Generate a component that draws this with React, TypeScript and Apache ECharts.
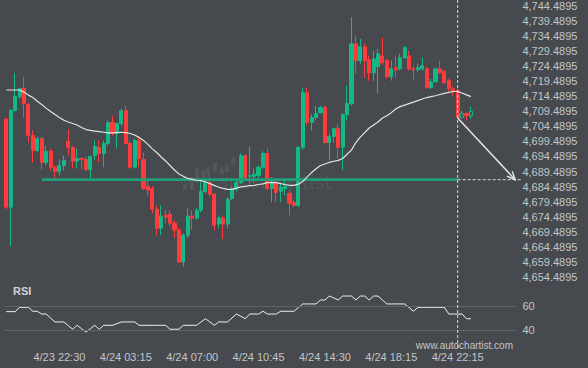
import React, { useEffect, useRef } from "react";
import * as echarts from "echarts";

// ---- data ----
const SLOTS = 116; // 15-minute slots shown on the x axis (incl. projection area)
const tickIndex = [12, 27, 42, 57, 72, 87, 102];
const tickLabels = ["4/23 22:30", "4/24 03:15", "4/24 07:00", "4/24 10:45", "4/24 14:30", "4/24 18:15", "4/24 22:15"];

// [open, close, low, high]
const candles: number[][] = [
  [4706.7, 4677.7, 4677.0, 4707.4], [4677.7, 4709.7, 4664.8, 4710.3], [4709.7, 4714.3, 4709.3, 4722.2], [4714.3, 4717.0, 4713.6, 4717.3],
  [4717.0, 4712.0, 4707.4, 4720.9], [4711.7, 4701.4, 4699.1, 4712.3], [4701.4, 4696.5, 4692.5, 4703.1], [4696.5, 4700.4, 4695.8, 4701.1],
  [4700.4, 4692.5, 4689.9, 4701.1], [4692.5, 4696.2, 4691.5, 4698.1], [4696.2, 4690.9, 4689.9, 4697.1], [4690.9, 4689.6, 4686.9, 4691.5],
  [4689.6, 4691.5, 4688.2, 4693.5], [4691.5, 4693.2, 4689.9, 4694.8], [4699.5, 4697.5, 4694.8, 4703.4], [4697.5, 4692.9, 4690.5, 4697.8],
  [4692.9, 4693.8, 4690.5, 4697.1], [4693.8, 4693.5, 4690.2, 4694.2], [4693.5, 4690.2, 4689.6, 4694.5], [4690.2, 4694.5, 4686.9, 4694.8],
  [4694.8, 4697.8, 4693.2, 4699.8], [4697.5, 4695.5, 4692.5, 4699.8], [4695.5, 4698.8, 4690.9, 4699.8], [4698.8, 4705.7, 4698.1, 4706.4],
  [4705.7, 4702.1, 4701.4, 4708.0], [4702.1, 4705.4, 4697.1, 4705.7], [4705.4, 4709.7, 4704.4, 4710.3], [4709.7, 4698.8, 4698.5, 4711.3],
  [4698.8, 4690.9, 4690.5, 4699.8], [4690.9, 4699.8, 4690.5, 4700.4], [4699.8, 4693.8, 4690.9, 4700.8], [4693.5, 4683.9, 4683.3, 4695.8],
  [4684.6, 4683.3, 4681.3, 4686.6], [4683.9, 4677.0, 4675.7, 4684.6], [4677.0, 4670.7, 4668.4, 4678.3], [4670.7, 4674.7, 4668.4, 4678.3],
  [4675.0, 4674.4, 4672.4, 4676.7], [4675.4, 4672.4, 4671.4, 4676.7], [4672.4, 4670.1, 4667.4, 4673.4], [4670.1, 4659.5, 4659.2, 4670.7],
  [4659.5, 4668.4, 4657.9, 4669.1], [4668.4, 4674.7, 4667.4, 4677.3], [4674.7, 4674.1, 4670.1, 4676.7], [4674.1, 4676.7, 4673.4, 4677.3],
  [4676.7, 4682.9, 4676.0, 4686.6], [4682.9, 4685.9, 4682.3, 4687.2], [4685.9, 4682.0, 4681.3, 4687.6], [4682.0, 4671.7, 4670.1, 4682.3],
  [4672.1, 4674.1, 4670.7, 4675.0], [4674.1, 4672.1, 4667.1, 4674.7], [4672.1, 4680.3, 4670.7, 4681.0], [4680.6, 4683.6, 4680.0, 4684.6],
  [4683.6, 4685.9, 4682.9, 4686.6], [4685.9, 4694.8, 4685.3, 4695.5], [4694.8, 4687.6, 4686.6, 4695.2], [4687.9, 4688.2, 4685.6, 4697.8],
  [4687.9, 4688.6, 4685.6, 4690.5], [4688.2, 4690.9, 4687.2, 4691.5], [4690.9, 4695.5, 4690.2, 4696.2], [4695.5, 4683.9, 4683.3, 4697.1],
  [4683.9, 4685.9, 4679.3, 4687.6], [4685.9, 4682.6, 4679.3, 4686.6], [4683.0, 4684.3, 4679.3, 4685.6], [4683.9, 4684.6, 4681.6, 4686.6],
  [4682.3, 4679.0, 4675.0, 4683.3], [4679.3, 4678.3, 4677.7, 4680.0], [4678.3, 4697.5, 4677.7, 4697.8], [4697.5, 4715.6, 4696.8, 4717.3],
  [4715.6, 4705.7, 4704.7, 4717.3], [4705.7, 4707.4, 4703.1, 4708.7], [4707.4, 4708.7, 4706.4, 4711.3], [4709.0, 4710.7, 4708.7, 4711.3],
  [4710.7, 4699.1, 4698.8, 4711.3], [4699.1, 4701.1, 4693.2, 4702.1], [4701.1, 4703.7, 4699.1, 4704.1], [4703.7, 4697.5, 4693.8, 4705.4],
  [4697.5, 4708.4, 4689.9, 4708.7], [4708.4, 4712.0, 4706.4, 4717.9], [4712.0, 4731.8, 4711.3, 4740.7], [4731.8, 4726.2, 4721.9, 4734.4],
  [4726.2, 4730.8, 4725.2, 4733.4], [4730.8, 4726.2, 4720.6, 4731.8], [4726.5, 4722.2, 4719.6, 4727.8], [4722.2, 4726.8, 4719.6, 4729.5],
  [4724.2, 4728.5, 4715.3, 4730.1], [4727.8, 4725.5, 4724.9, 4733.8], [4726.2, 4720.9, 4720.2, 4726.8], [4720.9, 4723.5, 4719.6, 4726.2],
  [4723.9, 4723.2, 4720.6, 4727.8], [4723.5, 4727.2, 4722.9, 4728.5], [4727.2, 4730.5, 4726.8, 4731.1], [4727.8, 4723.5, 4722.9, 4729.5],
  [4723.5, 4723.2, 4719.6, 4724.5], [4723.2, 4723.9, 4722.6, 4725.2], [4723.5, 4724.5, 4722.9, 4727.2], [4723.5, 4717.3, 4716.9, 4724.2],
  [4717.3, 4719.2, 4716.9, 4720.2], [4719.2, 4723.5, 4718.9, 4723.9], [4723.5, 4722.2, 4721.9, 4726.2], [4722.6, 4718.9, 4718.6, 4723.2],
  [4719.6, 4716.9, 4716.0, 4720.2], [4716.9, 4716.0, 4714.6, 4717.6], [4716.3, 4707.4, 4707.0, 4716.9], [4707.4, 4708.7, 4707.0, 4709.7],
  [4708.7, 4708.0, 4706.4, 4709.0], [4708.0, 4709.4, 4707.0, 4711.0],
];
const hollowIndex = [103, 105];

const movingAverage = [
  4716.5, 4716.5, 4716.5, 4716.5, 4715.8, 4714.8, 4714.0, 4712.8, 4711.7, 4710.5, 4709.4, 4708.4, 4707.4, 4706.5, 4705.9, 4705.4,
  4704.9, 4704.1, 4703.4, 4703.1, 4702.9, 4702.7, 4702.5, 4702.3, 4702.3, 4702.4, 4702.5, 4702.4, 4702.1, 4701.6, 4700.8, 4699.8,
  4698.5, 4697.0, 4695.8, 4694.3, 4693.0, 4691.5, 4690.0, 4688.7, 4687.9, 4687.2, 4686.9, 4686.6, 4686.5, 4686.1, 4685.5, 4684.9,
  4684.3, 4683.9, 4683.6, 4683.6, 4684.0, 4684.4, 4684.6, 4684.8, 4684.9, 4685.2, 4685.4, 4685.8, 4685.9, 4685.8, 4685.5, 4685.2,
  4684.9, 4684.9, 4685.3, 4686.2, 4687.7, 4689.2, 4690.4, 4691.5, 4692.0, 4692.5, 4692.9, 4693.2, 4693.8, 4695.2, 4696.6, 4699.1,
  4700.9, 4702.4, 4703.9, 4704.9, 4705.9, 4707.2, 4708.0, 4709.0, 4710.2, 4711.0, 4711.5, 4712.0, 4712.5, 4713.0, 4713.5, 4714.0,
  4714.3, 4714.6, 4715.0, 4715.4, 4715.7, 4716.0, 4716.0, 4715.5, 4714.9, 4714.3,
];

const rsi = [
  55.3, 55.3, 55.3, 58.9, 58.9, 58.9, 55.6, 55.6, 53.3, 53.3, 50.0, 46.7, 46.7, 46.7, 43.6, 40.6,
  43.9, 41.1, 38.3, 41.1, 43.9, 40.6, 43.9, 43.9, 43.9, 45.3, 46.7, 46.7, 46.7, 46.7, 43.9, 43.9,
  43.9, 43.9, 43.9, 43.9, 43.9, 40.6, 40.6, 40.6, 43.9, 43.9, 43.9, 43.9, 46.7, 49.4, 46.7, 43.9,
  46.7, 46.7, 46.7, 50.0, 53.3, 51.4, 49.4, 53.3, 53.3, 53.3, 55.6, 53.3, 53.3, 53.3, 55.6, 55.6,
  55.6, 55.6, 58.7, 61.7, 61.7, 61.7, 61.7, 65.0, 65.0, 68.3, 66.7, 65.0, 68.3, 68.3, 68.3, 65.0,
  68.3, 68.3, 65.0, 68.3, 68.3, 65.0, 61.7, 61.7, 61.7, 61.7, 61.7, 58.7, 55.6, 58.9, 58.9, 58.9,
  58.9, 58.9, 58.9, 58.9, 53.3, 53.3, 53.3, 53.3, 49.4, 49.4,
];
const rsiLevels = [60, 40];

const PRICE_MIN = 4654.4895;
const PRICE_MAX = 4744.4895;
const PRICE_STEP = 5;

const supportLevel = 4686.8;
const supportStartIndex = 8;
const patternIndex = 102;
const arrowStartPrice = 4707.2;
const arrowEndIndex = 115;

// ---- styles ----
const BG = "#46494e";
const UP = "#14b886";
const DOWN = "#ff3b3b";
const TEXT = "#c3c5c8";
const FONT = "'Liberation Sans', Arial, sans-serif";

export default function App() {
  const ref = useRef<HTMLDivElement>(null);

  useEffect(() => {
    if (!ref.current) return;
    const chart = echarts.init(ref.current, null, { renderer: "svg" });
    const cats = Array.from({ length: SLOTS }, (_, i) => String(i));
    const labelAt = (i: number) => {
      const k = tickIndex.indexOf(i);
      return k >= 0 ? tickLabels[k] : "";
    };

    const candleData = candles.map((c, i) =>
      hollowIndex.includes(i)
        ? { value: c, itemStyle: { color: BG, borderColor: UP } }
        : c
    );

    const gridLeft = 4.1;
    const gridWidth = 513.3;

    chart.setOption({
      animation: false,
      backgroundColor: BG,
      grid: [
        { left: gridLeft, width: gridWidth, top: 4.5, height: 272.7 },
        { left: gridLeft, width: gridWidth, top: 282, height: 72 },
      ],
      xAxis: [
        {
          type: "category", gridIndex: 0, data: cats, boundaryGap: true,
          axisLine: { show: false }, axisTick: { show: false }, axisLabel: { show: false }, splitLine: { show: false },
        },
        {
          type: "category", gridIndex: 1, data: cats, boundaryGap: true, offset: -5,
          axisLine: { show: false }, axisTick: { show: false }, splitLine: { show: false },
          axisLabel: {
            show: true,
            interval: (i: number) => tickIndex.includes(i),
            formatter: (_v: string, i: number) => labelAt(i),
            color: TEXT, fontSize: 11, fontFamily: FONT, margin: 2,
          },
        },
      ],
      yAxis: [
        { type: "value", gridIndex: 0, min: PRICE_MIN, max: PRICE_MAX, show: false, scale: true },
        {
          type: "value", gridIndex: 0, min: 0, max: PRICE_MAX - PRICE_MIN, interval: PRICE_STEP, position: "right",
          axisLine: { show: false }, axisTick: { show: false }, splitLine: { show: false },
          axisLabel: {
            color: TEXT, fontSize: 11, fontFamily: FONT, margin: 5,
            formatter: (v: number) =>
              (PRICE_MIN + v).toLocaleString("en-US", { minimumFractionDigits: 4, maximumFractionDigits: 4 }),
          },
        },
        {
          type: "value", gridIndex: 1, min: 20, max: 80, interval: 20, position: "right",
          axisLine: { show: false }, axisTick: { show: false }, splitLine: { show: false },
          axisLabel: {
            color: TEXT, fontSize: 11, fontFamily: FONT, margin: 5,
            formatter: (v: number) => (rsiLevels.includes(v) ? String(v) : ""),
          },
        },
      ],
      series: [
        {
          type: "candlestick", xAxisIndex: 0, yAxisIndex: 0, data: candleData, barWidth: 3.6, z: 2,
          itemStyle: { color: UP, color0: DOWN, borderColor: UP, borderColor0: DOWN, borderWidth: 1 },
        },
        {
          type: "line", xAxisIndex: 0, yAxisIndex: 0, data: movingAverage, showSymbol: false, z: 4,
          lineStyle: { color: "#e2e3e4", width: 1.2 },
        },
        {
          type: "line", xAxisIndex: 1, yAxisIndex: 2, data: rsi, showSymbol: false, z: 4,
          lineStyle: { color: "#f0f0f0", width: 1 },
          markLine: {
            silent: true, symbol: "none", label: { show: false },
            lineStyle: { color: "#5f6368", type: "solid", width: 1 },
            data: rsiLevels.map((v) => ({ yAxis: v })),
          },
        },
      ],
    });

    const px = (i: number, v: number) => chart.convertToPixel({ xAxisIndex: 0, yAxisIndex: 0 }, [i, v]) as number[];
    const [sx0, sy] = px(supportStartIndex, supportLevel);
    const [pxX] = px(patternIndex, supportLevel);
    const [ax0, ay0] = px(patternIndex, arrowStartPrice);
    const [ax1, ay1] = px(arrowEndIndex, supportLevel);
    const ang = Math.atan2(ay1 - ay0, ax1 - ax0);
    const L = 9, spread = 0.42;
    const head = [
      [ax1 - L * Math.cos(ang - spread), ay1 - L * Math.sin(ang - spread)],
      [ax1, ay1],
      [ax1 - L * Math.cos(ang + spread), ay1 - L * Math.sin(ang + spread)],
    ];
    const wm = "rgba(255,255,255,0.075)";
    const logoBars = [
      [185, 184, 190], [191.7, 177, 190], [196.7, 168, 183], [203.3, 170, 182], [208.3, 167, 177],
      [215, 163, 172], [221.7, 167, 175], [226.7, 165, 172], [233.3, 157, 165],
    ];

    chart.setOption({
      graphic: [
        ...logoBars.map(([x, t, b]) => ({
          type: "rect", z: 0, silent: true,
          shape: { x: x - 2, y: t, width: 4, height: b - t, r: 1 },
          style: { fill: wm },
        })),
        {
          type: "text", z: 0, silent: true, x: 217, y: 191,
          style: { text: "autochartist", fill: wm, font: "19px 'DejaVu Sans', sans-serif", textVerticalAlign: "bottom" },
        },
        {
          type: "line", z: 3, silent: true,
          shape: { x1: sx0, y1: sy, x2: pxX, y2: sy },
          style: { stroke: "#1e9f78", lineWidth: 2.6 },
        },
        {
          type: "line", z: 10, silent: true,
          shape: { x1: pxX, y1: sy, x2: 521, y2: sy },
          style: { stroke: "#d6d6d6", lineWidth: 1, lineDash: [3, 2] },
        },
        {
          type: "line", z: 10, silent: true,
          shape: { x1: pxX, y1: 0, x2: pxX, y2: 349 },
          style: { stroke: "#d6d6d6", lineWidth: 1, lineDash: [3, 2] },
        },
        {
          type: "line", z: 10, silent: true,
          shape: { x1: ax0, y1: ay0, x2: ax1, y2: ay1 },
          style: { stroke: "#e6e6e6", lineWidth: 1.4 },
        },
        {
          type: "polyline", z: 10, silent: true,
          shape: { points: head },
          style: { stroke: "#e6e6e6", lineWidth: 1.4, fill: "none" },
        },
        {
          type: "text", z: 10, silent: true, x: 13, y: 291,
          style: { text: "RSI", fill: "#d2d3d5", font: `bold 11px ${FONT}`, textVerticalAlign: "middle" },
        },
        {
          type: "text", z: 10, silent: true, x: 513, y: 345,
          style: { text: "www.autochartist.com", fill: TEXT, font: `10px ${FONT}`, textAlign: "right", textVerticalAlign: "middle" },
        },
      ],
    });

    return () => chart.dispose();
  }, []);

  return <div ref={ref} style={{ width: 588, height: 368, position: "absolute", left: 0, top: 0 }} />;
}
